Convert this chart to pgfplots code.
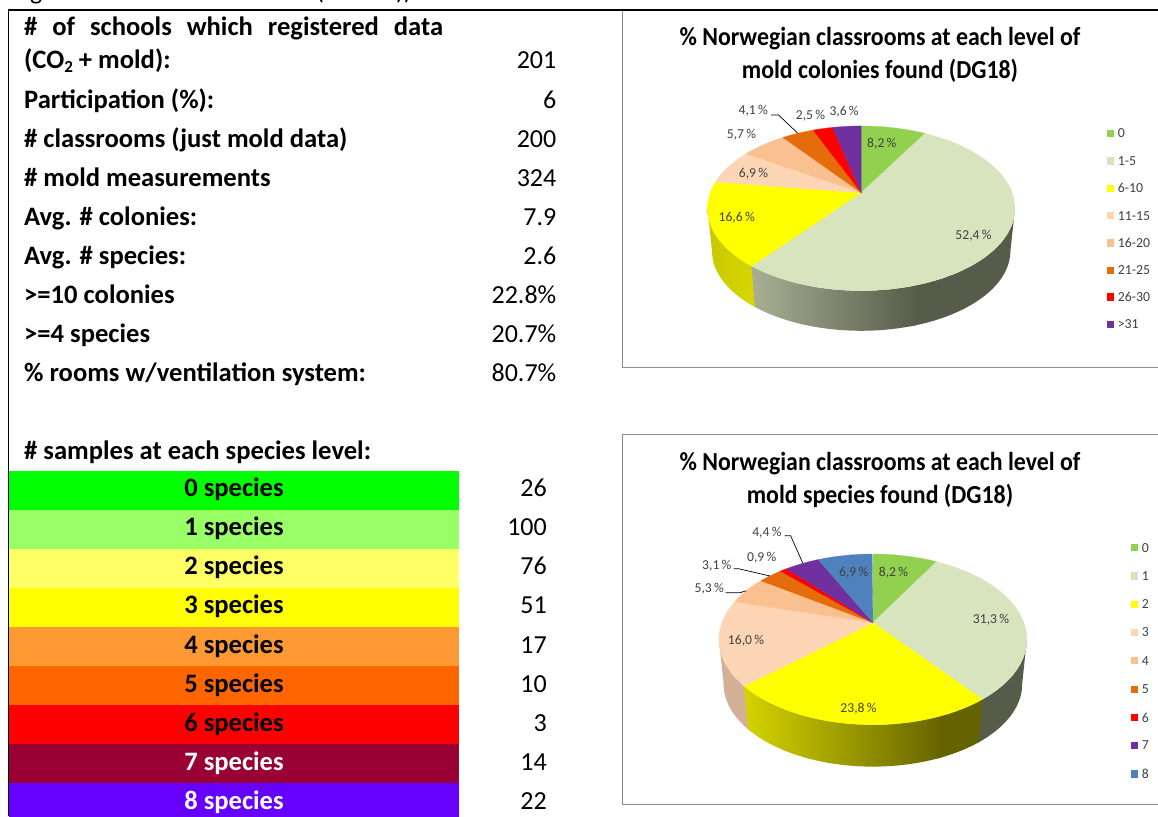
\documentclass[border=0pt]{standalone}
\usepackage{pgfplots}
\pgfplotsset{compat=1.18}
\usepackage{fontspec}
\setmainfont{Carlito}
\definecolor{c0}{HTML}{92D050}
\definecolor{c1}{HTML}{D7E4BD}
\definecolor{c2}{HTML}{FFFF00}
\definecolor{c3}{HTML}{FCD5B5}
\definecolor{c4}{HTML}{FAC090}
\definecolor{c5}{HTML}{E46C0A}
\definecolor{c6}{HTML}{FF0000}
\definecolor{c7}{HTML}{7030A0}
\definecolor{c8}{HTML}{4F81BD}
\definecolor{lab}{HTML}{404040}
\definecolor{frame}{HTML}{8C8C8C}
\definecolor{r0}{HTML}{00FF00}
\definecolor{r1}{HTML}{99FF66}
\definecolor{r2}{HTML}{FFFF66}
\definecolor{r4}{HTML}{FF9933}
\definecolor{r5}{HTML}{FF6600}
\definecolor{r7}{HTML}{990033}
\definecolor{r8}{HTML}{6600FF}
\definecolor{wyA}{HTML}{C8C800}
\definecolor{wyB}{HTML}{D8D800}
\definecolor{wgA}{HTML}{575B4A}
\definecolor{wgB}{HTML}{A9AF94}
\definecolor{wyC}{HTML}{656200}
\definecolor{wyD}{HTML}{D4D400}
\definecolor{wpA}{HTML}{D4B096}
\newcommand\pieset[4]{\def\pAx{#1}\def\pAy{#2}\def\pB{#3}\def\pK{#4}\gdef\pCum{0}}
\def\pA{151}
\newcommand\rim[4]{%
  \foreach \i in {0,...,32}{%
    \pgfmathsetmacro\myT{#1+(#2-#1)*\i/32}%
    \pgfmathsetmacro\myD{1+\pK*cos(\myT)}%
    \pgfmathsetmacro\myX{\pAx+#3*\pA*sin(\myT)/\myD}%
    \pgfmathsetmacro\myY{\pAy-#3*\pB*cos(\myT)/\myD+#4}%
    \xdef\plist{\plist (\myX,\myY)}%
  }}
% one slice, from its percentage
\newcommand\slice[2]{%
  \pgfmathsetmacro\thA{\pCum*3.6}%
  \pgfmathsetmacro\newCum{\pCum+#1}%
  \xdef\pCum{\newCum}%
  \pgfmathsetmacro\thB{\newCum*3.6}%
  \xdef\plist{(\pAx,\pAy)}%
  \rim{\thA}{\thB}{1}{0}%
  \edef\tmp{\noexpand\addplot[fill=#2,draw=#2,line width=0.2pt] coordinates {\plist} --cycle;}\tmp}
% one piece of the side wall: angle from, angle to, drop, style
\newcommand\wall[4]{%
  \gdef\plist{}%
  \rim{#1}{#2}{1}{0}%
  \rim{#2}{#1}{0.97}{#3}%
  \edef\tmp{\noexpand\addplot[draw=none,#4] coordinates {\plist} --cycle;}\tmp}
\newcommand\swatch[3]{%
  \pgfmathsetmacro\sa{#1+7.6}\pgfmathsetmacro\sb{#2-3.7}\pgfmathsetmacro\sc{#2+3.7}%
  \edef\tmp{\noexpand\addplot[fill=#3,draw=none] coordinates {(#1,\sb) (\sa,\sb) (\sa,\sc) (#1,\sc)} --cycle;}\tmp}
\newcommand\rowbar[2]{%
  \pgfmathsetmacro\sb{#1+39.2}%
  \edef\tmp{\noexpand\addplot[fill=#2,draw=none] coordinates {(9,#1) (459,#1) (459,\sb) (9,\sb)} --cycle;}\tmp}
\newcommand\bt[1]{\fontsize{26.6}{26.6}\selectfont\bfseries #1}
\newcommand\nt[1]{\fontsize{26}{26}\selectfont #1}
\newcommand\tl[2]{\node[anchor=base west,inner sep=0pt] at (24,#1) {\bt{#2}};}
\newcommand\tv[2]{\node[anchor=base east,inner sep=0pt] at (556.5,#1) {\nt{#2}};}
\newcommand\sr[4]{\node[anchor=base,inner sep=0pt,text=#3] at (234,#1) {\bt{#2}};\node[anchor=base east,inner sep=0pt] at (547,#1) {\nt{#4}};}
\newcommand\pl[3]{\node[inner sep=0pt,text=lab] at (#1,#2) {\fontsize{13.6}{13.6}\selectfont #3\,\%};}
\newcommand\lgd[3]{\node[anchor=west,inner sep=0pt,text=lab] at (#1,#2) {\fontsize{13.8}{13.8}\selectfont #3};}
\newcommand\ttl[2]{\node[inner sep=0pt] at (880,#1) {\scalebox{0.917}[1]{\fontsize{26}{26}\selectfont\bfseries #2}};}
\begin{document}
\begin{tikzpicture}
\path[use as bounding box] (0,0) rectangle (1158pt,816pt);
\begin{axis}[at={(0,0)},anchor=south west,scale only axis,width=1158pt,height=816pt,
  xmin=0,xmax=1158,ymin=0,ymax=816,y dir=reverse,hide axis,clip=false]
% frame of the table and chart boxes
\addplot[draw=frame,line width=0.9pt] coordinates {(622.5,10) (622.5,367) (1158,367)};
\addplot[draw=frame,line width=0.9pt] coordinates {(1158,434.7) (622.5,434.7) (622.5,804) (1158,804)};
% coloured rows
\rowbar{471}{r0}
\rowbar{510}{r1}
\rowbar{549}{r2}
\rowbar{588}{c2}
\rowbar{627}{r4}
\rowbar{666}{r5}
\rowbar{705}{c6}
\rowbar{744}{r7}
\rowbar{783}{r8}
\addplot[draw=black,line width=1.6pt] coordinates {(8.5,816) (8.5,10) (1158,10)};
% first pie
\pieset{861.2}{192.7}{79.4}{0.19}
\wall{217}{259}{43}{left color=wyA,right color=wyB}
\wall{101}{164}{43}{fill=wgA}
\wall{162}{218.16}{43}{left color=wgB,right color=wgA}
\slice{8.2}{c0}
\slice{52.4}{c1}
\slice{16.6}{c2}
\slice{6.9}{c3}
\slice{5.7}{c4}
\slice{4.1}{c5}
\slice{2.5}{c6}
\slice{3.6}{c7}
\addplot[draw=black,line width=0.7pt] coordinates {(771,115) (778.5,115) (797.8,133.3)};
% second pie
\pieset{872.9}{622.7}{82.1}{0.195}
\wall{226.5}{259}{45}{fill=wpA}
\wall{101}{143}{45}{fill=wgA}
\wall{142.2}{159}{45}{fill=wyC}
\wall{157}{227.9}{45}{left color=wyD,right color=wyC}
\slice{8.2}{c0}
\slice{31.3}{c1}
\slice{23.8}{c2}
\slice{16.0}{c3}
\slice{5.3}{c4}
\slice{3.1}{c5}
\slice{0.9}{c6}
\slice{4.4}{c7}
\slice{6.9}{c8}
\addplot[draw=black,line width=0.7pt] coordinates {(784.7,535.7) (790.6,535.7) (802.9,563.3)};
\addplot[draw=black,line width=0.7pt] coordinates {(733.6,568.7) (738.4,568.7) (770,576)};
\addplot[draw=black,line width=0.7pt] coordinates {(725.7,592.7) (740.1,592.7) (746.3,590.7)};
% legends
\swatch{1106.6}{133.3}{c0}\swatch{1106.6}{161}{c1}\swatch{1106.6}{188.3}{c2}\swatch{1106.6}{215.7}{c3}
\swatch{1106.6}{243}{c4}\swatch{1106.6}{270.3}{c5}\swatch{1106.6}{297}{c6}\swatch{1106.6}{324.3}{c7}
\swatch{1130.6}{547.7}{c0}\swatch{1130.6}{576}{c1}\swatch{1130.6}{604.3}{c2}\swatch{1130.6}{632.3}{c3}
\swatch{1130.6}{660.7}{c4}\swatch{1130.6}{689.3}{c5}\swatch{1130.6}{717.7}{c6}\swatch{1130.6}{745.3}{c7}\swatch{1130.6}{774}{c8}
\lgd{1117.6}{133.3}{0}\lgd{1117.6}{161}{1-5}\lgd{1117.6}{188.3}{6-10}\lgd{1117.6}{215.7}{11-15}
\lgd{1117.6}{243}{16-20}\lgd{1117.6}{270.3}{21-25}\lgd{1117.6}{297}{26-30}\lgd{1117.6}{324.3}{>31}
\lgd{1141.6}{547.7}{0}\lgd{1141.6}{576}{1}\lgd{1141.6}{604.3}{2}\lgd{1141.6}{632.3}{3}
\lgd{1141.6}{660.7}{4}\lgd{1141.6}{689.3}{5}\lgd{1141.6}{717.7}{6}\lgd{1141.6}{745.3}{7}\lgd{1141.6}{774}{8}
% pie labels
\pl{881.8}{143.3}{8,2}\pl{973.5}{236}{52,4}\pl{736.7}{218}{16,6}\pl{753.5}{173.7}{6,9}
\pl{741.5}{135}{5,7}\pl{753.2}{111}{4,1}\pl{810.5}{115.3}{2,5}\pl{844.1}{111.3}{3,6}
\pl{893.5}{572.3}{8,2}\pl{853.7}{572.3}{6,9}\pl{991}{619.3}{31,3}\pl{858.5}{708.7}{23,8}
\pl{746}{640.3}{16,0}\pl{709.2}{589}{5,3}\pl{716.8}{565.3}{3,1}\pl{761.7}{557.3}{0,9}\pl{766.9}{532.3}{4,4}
% titles
\ttl{38.3}{\% Norwegian classrooms at each level of}
\ttl{70.7}{mold colonies found (DG18)}
\ttl{463.3}{\% Norwegian classrooms at each level of}
\ttl{496}{mold species found (DG18)}
% the line above the table, cut by the page edge: only its descenders show
\node[anchor=base west,inner sep=0pt] at (12,0) {\nt{Figure}};
\node[anchor=base,inner sep=0pt] at (320,0) {\nt{(}};
\node[anchor=base east,inner sep=0pt] at (412,0) {\nt{))}};
% table text
\node[anchor=base west,inner sep=0pt] at (24,36) {\bt{\makebox[419pt][s]{\# of schools which registered data}}};
\tl{68}{(CO\raisebox{-4pt}{\fontsize{17}{17}\selectfont 2} + mold):}\tv{68}{201}
\tl{108}{Participation (\%):}\tv{108}{6}
\tl{147}{\# classrooms (just mold data)}\tv{147}{200}
\tl{186}{\# mold measurements}\tv{186}{324}
\tl{225}{Avg. \# colonies:}\tv{225}{7.9}
\tl{264}{Avg. \# species:}\tv{264}{2.6}
\tl{303}{>=10 colonies}\tv{303}{22.8\%}
\tl{342}{>=4 species}\tv{342}{20.7\%}
\tl{381}{\% rooms w/ventilation system:}\tv{381}{80.7\%}
\tl{459}{\# samples at each species level:}
\sr{496.5}{0 species}{black}{26}
\sr{535.5}{1 species}{black}{100}
\sr{574.7}{2 species}{black}{76}
\sr{613.8}{3 species}{black}{51}
\sr{653}{4 species}{black}{17}
\sr{692}{5 species}{black}{10}
\sr{731}{6 species}{black}{3}
\sr{770}{7 species}{white}{14}
\sr{809}{8 species}{white}{22}
\end{axis}
\end{tikzpicture}
\end{document}
